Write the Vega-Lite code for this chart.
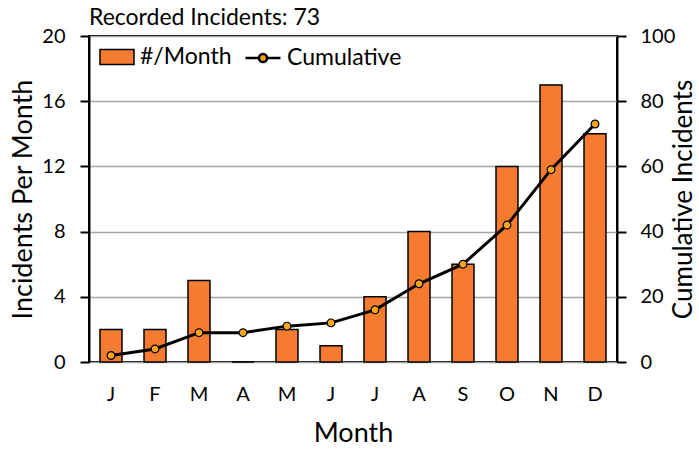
{
  "$schema": "https://vega.github.io/schema/vega-lite/v6.json",
  "autosize": {"type": "none"},
  "padding": {"left": 89, "top": 36, "right": 82, "bottom": 87},
  "width": 528,
  "height": 326,
  "background": "white",
  "title": {"text": "Recorded Incidents: 73", "anchor": "start", "frame": "group", "fontSize": 23, "fontWeight": "normal", "font": "Lato", "color": "black", "offset": -4},
  "config": {
    "font": "Lato",
    "view": {"stroke": "black", "strokeWidth": 2},
    "axis": {"labelFont": "Lato", "titleFont": "Lato", "labelColor": "black", "titleColor": "black", "titleFontWeight": "normal", "domainColor": "black", "domainWidth": 2, "tickColor": "black", "tickWidth": 2, "tickSize": 9},
    "legend": {"labelFont": "Lato", "labelFontSize": 23, "labelColor": "black"}
  },
  "data": {"values": [
    {"month": "Jan", "count": 2, "cum": 2},
    {"month": "Feb", "count": 2, "cum": 4},
    {"month": "Mar", "count": 5, "cum": 9},
    {"month": "Apr", "count": 0, "cum": 9},
    {"month": "May", "count": 2, "cum": 11},
    {"month": "Jun", "count": 1, "cum": 12},
    {"month": "Jul", "count": 4, "cum": 16},
    {"month": "Aug", "count": 8, "cum": 24},
    {"month": "Sep", "count": 6, "cum": 30},
    {"month": "Oct", "count": 12, "cum": 42},
    {"month": "Nov", "count": 17, "cum": 59},
    {"month": "Dec", "count": 14, "cum": 73}
  ]},
  "encoding": {
    "x": {"field": "month", "type": "nominal", "sort": null, "scale": {"paddingInner": 0.5, "paddingOuter": 0.25},
      "axis": {"title": "Month", "labelExpr": "substring(datum.label,0,1)", "labelAngle": 0, "labelFontSize": 20, "titleFontSize": 27, "ticks": false, "labelPadding": 22, "titlePadding": 16, "domain": false}}
  },
  "layer": [
    {
      "mark": {"type": "bar", "stroke": "black", "strokeWidth": 1.5},
      "encoding": {
        "y": {"field": "count", "type": "quantitative", "scale": {"domain": [0, 20]},
          "axis": {"title": "Incidents Per Month", "values": [0, 4, 8, 12, 16, 20], "labelFontSize": 20, "titleFontSize": 27, "labelPadding": 15, "titlePadding": 4, "grid": true, "gridColor": "#A6A6A6", "gridWidth": 1.5, "domain": true}},
        "fill": {"datum": "#/Month", "type": "nominal", "scale": {"range": ["#F47B2F"]},
          "legend": {"title": null, "orient": "none", "legendX": 10, "legendY": 3, "symbolType": "M-1,-0.44H1V0.44H-1Z", "symbolSize": 1156, "symbolStrokeColor": "black", "symbolStrokeWidth": 1.5, "labelOffset": 5}}
      }
    },
    {
      "mark": {"type": "line", "strokeWidth": 3},
      "encoding": {
        "y": {"field": "cum", "type": "quantitative", "scale": {"domain": [0, 100]},
          "axis": {"title": "Cumulative Incidents", "orient": "right", "values": [0, 20, 40, 60, 80, 100], "labelFontSize": 20, "titleFontSize": 26, "labelPadding": 14, "titleAngle": 270, "titleBaseline": "top", "titleAlign": "center", "titleX": 53, "titleY": 163, "grid": false}},
        "stroke": {"datum": "Cumulative", "type": "nominal", "scale": {"range": ["black"]},
          "legend": {"title": null, "orient": "none", "legendX": 155, "legendY": 3, "symbolType": "M-1,0H-0.23M0.23,0H1M-0.23,0A0.23,0.23 0 1,1 0.23,0A0.23,0.23 0 1,1 -0.23,0Z", "symbolSize": 1225, "symbolFillColor": "#F9A61C", "symbolStrokeWidth": 2.5, "labelOffset": 5}}
      }
    },
    {
      "mark": {"type": "point", "shape": "circle", "filled": true, "fill": "#F9A61C", "stroke": "black", "strokeWidth": 1.2, "size": 60, "opacity": 1},
      "encoding": {
        "y": {"field": "cum", "type": "quantitative", "scale": {"domain": [0, 100]}, "axis": null}
      }
    }
  ],
  "resolve": {"scale": {"y": "independent", "fill": "independent", "stroke": "independent"}}
}
